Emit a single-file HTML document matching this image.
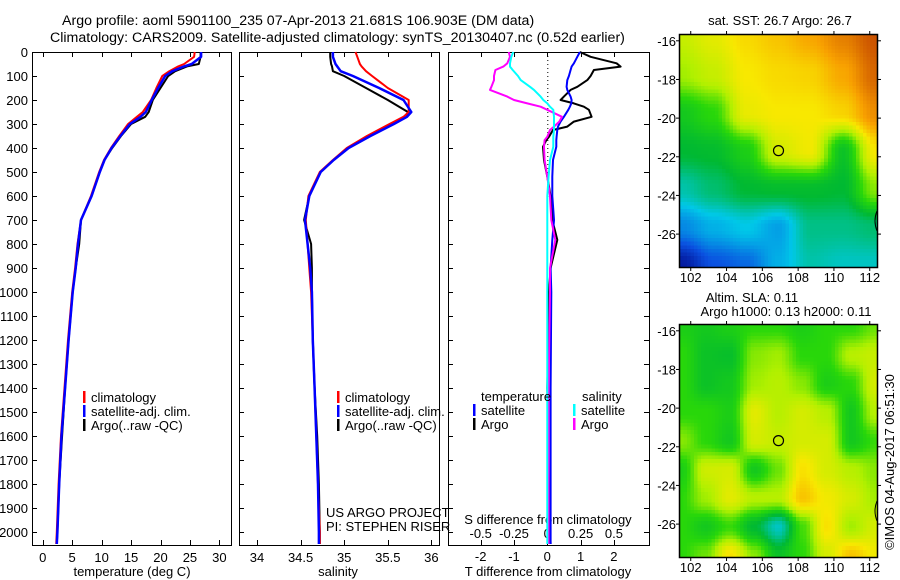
<!DOCTYPE html>
<html><head><meta charset="utf-8">
<style>
html,body{margin:0;padding:0;background:#fff;}
body{width:900px;height:580px;overflow:hidden;position:relative;font-family:"Liberation Sans",sans-serif;}
svg{position:absolute;left:0;top:0;}
canvas{position:absolute;image-rendering:pixelated;}
text{font-family:"Liberation Sans",sans-serif;font-size:13px;fill:#000;}
text.title{font-size:14.2px;}
</style></head>
<body>
<canvas id="mapTop" width="56" height="64" style="left:680px;top:35px;width:197px;height:232px;"></canvas>
<canvas id="mapBot" width="56" height="64" style="left:680px;top:325px;width:197px;height:232px;"></canvas>
<svg id="chart" width="900" height="580" viewBox="0 0 900 580"></svg>
<script>
// ---- data ----
const depths = [0,20,50,60,80,100,150,200,250,270,300,350,400,450,500,600,700,800,900,1000,1200,1400,1600,1800,2000,2050];
const tempArgo = [26.8,26.8,26.5,24.5,22.5,21.3,20,18.7,18,17.4,15,13.3,11.8,10.5,9.7,8.3,6.5,6.2,5.6,5.1,4.4,3.8,3.3,2.8,2.5,2.4];
const tempClim = [25.8,25.7,24.0,23,21.5,20.3,19.3,18.4,17,16,14.5,13,11.6,10.4,9.6,8.2,6.5,5.9,5.5,5.0,4.3,3.7,3.1,2.7,2.4,2.3];
const tempSat = [26.9,26.9,25.3,24,22,20.8,19.6,18.5,17.5,16.6,14.8,13.2,11.7,10.5,9.7,8.3,6.5,6.0,5.6,5.1,4.4,3.8,3.2,2.8,2.5,2.4];
const salArgo = [34.84,34.84,34.85,34.86,34.87,35.0,35.25,35.5,35.73,35.72,35.55,35.3,35.05,34.88,34.73,34.6,34.54,34.62,34.63,34.63,34.64,34.66,34.69,34.71,34.72,34.72];
const salClim = [35.13,35.15,35.18,35.2,35.25,35.32,35.5,35.74,35.74,35.68,35.52,35.26,35.03,34.87,34.72,34.59,34.56,34.58,34.6,34.62,34.64,34.66,34.68,34.7,34.72,34.72];
const salSat = [34.87,34.87,34.9,34.92,34.96,35.1,35.4,35.68,35.77,35.72,35.57,35.3,35.05,34.88,34.73,34.6,34.55,34.58,34.61,34.63,34.64,34.66,34.68,34.7,34.71,34.71];
const diffDepths = [0,20,47,61,75,100,117,145,158,186,200,214,228,241,270,290,311,325,353,367,395,450,519,600,700,783,900,1000,1400,1800,2050];
const tDiffSat = [0.98,0.9,0.8,0.73,0.7,0.65,0.6,0.58,0.6,0.7,0.73,0.72,0.68,0.63,0.5,0.4,0.32,0.3,0.28,0.27,0.27,0.17,0.15,0.15,0.2,0.15,0.1,0.12,0.1,0.1,0.1];
const tDiffArgo = [0.98,1.3,2.08,2.2,1.4,1.3,1.2,0.9,0.7,0.5,0.4,0.8,1.1,1.25,1.33,0.8,0.6,0.17,0.05,-0.03,-0.13,-0.1,0.0,0.1,0.15,0.3,0.1,0.05,0.0,0.05,0.1];
const sDiffSat = [-0.255,-0.27,-0.28,-0.28,-0.26,-0.22,-0.2,-0.13,-0.1,-0.05,-0.03,0.0,0.02,0.045,0.05,0.05,0.05,0.05,0.045,0.045,0.045,0.02,0.01,0,0,0,0,0,0,0,0];
const sDiffArgo = [-0.29,-0.28,-0.3,-0.33,-0.39,-0.4,-0.4,-0.42,-0.43,-0.3,-0.25,-0.15,-0.05,0.0,0.11,0.09,0.05,0.02,0.0,-0.02,-0.025,-0.02,0,0.02,0.03,0.06,0.02,0.02,0.01,0.01,0.01];
const depthTicks = [0,100,200,300,400,500,600,700,800,900,1000,1100,1200,1300,1400,1500,1600,1700,1800,1900,2000];
const tempTicks = [0,5,10,15,20,25,30];
const salTicks = [34,34.5,35,35.5,36];
const tdTicks = [-2,-1,0,1,2];
const sdTicks = [-0.5,-0.25,0,0.25,0.5];
const sdTickLabels = ["-0.5","-0.25","0","0.25","0.5"];
const lonTicks = [102,104,106,108,110,112];
const latTicks = [-16,-18,-20,-22,-24,-26];
const argoLon = 106.903, argoLat = -21.681;

// ---- geometry ----
const top0=52, bot0=545;
const yD = d => top0 + d*0.24;
const P1={l:32,r:231}, P2={l:239,r:439}, P3={l:448,r:649};
const xT = t => 42.7 + t*5.89;
const xS = s => 257 + (s-34)*87.2;
const xTD = t => 547.3 + t*33.3;
const xSD = s => 547.3 + s*133.2;
const MT={l:680,r:877,t:35,b:267}, MB={l:680,r:877,t:325,b:557};
const xLon = lo => 680 + (lo-101.4)*17.9;
const yLatT = la => 35 + (-15.7-la)*19.33;
const yLatB = la => 325 + (-15.7-la)*19.33;

const svg=document.getElementById('chart');
const NS='http://www.w3.org/2000/svg';
function mk(tag,attrs,parent){const e=document.createElementNS(NS,tag);for(const k in attrs)e.setAttribute(k,attrs[k]);(parent||svg).appendChild(e);return e;}
function txt(x,y,s,anchor,parent){const t=mk('text',{x:x,y:y,'text-anchor':anchor||'start'},parent);t.textContent=s;return t;}

// titles
let t1=txt(62,25,'Argo profile: aoml 5901100_235 07-Apr-2013 21.681S 106.903E (DM data)','start');
t1.setAttribute('class','title');


let t2=txt(50,42,'Climatology: CARS2009. Satellite-adjusted climatology: synTS_20130407.nc (0.52d earlier)','start');
t2.setAttribute('class','title');



function frame(P,name){
  const r=mk('rect',{x:P.l+0.5,y:top0+0.5,width:P.r-P.l,height:bot0-top0,fill:'none',stroke:'#000','stroke-width':1});
  
  
  depthTicks.forEach(d=>{const y=Math.round(yD(d))+0.5;mk('line',{x1:P.l,x2:P.l+5,y1:y,y2:y,stroke:'#000'});});
}
frame(P1,'temperature-panel');frame(P2,'salinity-panel');frame(P3,'difference-panel');
depthTicks.forEach(d=>{const y=Math.round(yD(d))+0.5;mk('line',{x1:P3.r,x2:P3.r-5,y1:y,y2:y,stroke:'#000'});});
const gy=mk('g',{});


depthTicks.forEach(d=>{txt(28,yD(d)+5,String(d),'end',gy);});

function xticks(P,ticks,fx,labels,ly,name){
  const g=mk('g',{});
  
  
  ticks.forEach((v,i)=>{const x=Math.round(fx(v))+0.5;
    mk('line',{x1:x,x2:x,y1:top0,y2:top0+5,stroke:'#000'},g);
    mk('line',{x1:x,x2:x,y1:bot0,y2:bot0-5,stroke:'#000'},g);
    if(labels) txt(fx(v),ly,labels[i],'middle',g);});
}
xticks(P1,tempTicks,xT,tempTicks.map(String),562,'temperature-axis');
xticks(P2,salTicks,xS,salTicks.map(String),562,'salinity-axis');
xticks(P3,tdTicks,xTD,tdTicks.map(String),561,'t-difference-axis');
const gs=mk('g',{});


sdTicks.forEach((v,i)=>txt(xSD(v),538,sdTickLabels[i],'middle',gs));
let xl=txt(132,576,'temperature (deg C)','middle');


xl=txt(338,576,'salinity','middle');


xl=txt(548,576,'T difference from climatology','middle');


xl=txt(548,524,'S difference from climatology','middle');



mk('line',{x1:xTD(0)+0.5,x2:xTD(0)+0.5,y1:top0,y2:200,stroke:'#000','stroke-dasharray':'1,3'});

function series(xs,ds,fx,color,name,w){
  const pts=xs.map((v,i)=>fx(v).toFixed(1)+','+yD(ds[i]).toFixed(1)).join(' ');
  const p=mk('polyline',{points:pts,fill:'none',stroke:color,'stroke-width':w||2,'stroke-linejoin':'round'});
  
  
}
series(tempArgo,depths,xT,'#000','temp-argo-line');
series(tempClim,depths,xT,'#ff0000','temp-clim-line');
series(tempSat,depths,xT,'#0000ff','temp-sat-line',2.5);
series(salArgo,depths,xS,'#000','sal-argo-line');
series(salClim,depths,xS,'#ff0000','sal-clim-line');
series(salSat,depths,xS,'#0000ff','sal-sat-line',2.5);
series(tDiffArgo,diffDepths,xTD,'#000','tdiff-argo-line');
series(tDiffSat,diffDepths,xTD,'#0000ff','tdiff-sat-line');
series(sDiffArgo,diffDepths,xSD,'#ff00ff','sdiff-argo-line');
series(sDiffSat,diffDepths,xSD,'#00ffff','sdiff-sat-line');

function legendEntry(x,y,color,label,name){
  const g=mk('g',{});
  
  
  mk('rect',{x:x,y:y-11,width:2.5,height:12,fill:color},g);
  txt(x+8,y,label,'start',g);
}
legendEntry(83,402,'#ff0000','climatology','legend-climatology');
legendEntry(83,416,'#0000ff','satellite-adj. clim.','legend-satellite-adj');
legendEntry(83,430,'#000','Argo(..raw -QC)','legend-argo');
legendEntry(337,402,'#ff0000','climatology','legend-climatology-2');
legendEntry(337,416,'#0000ff','satellite-adj. clim.','legend-satellite-adj-2');
legendEntry(337,430,'#000','Argo(..raw -QC)','legend-argo-2');
let lt=txt(481,401,'temperature','start');


lt=txt(582,401,'salinity','start');


legendEntry(473,415,'#0000ff','satellite','legend-t-satellite');
legendEntry(473,429,'#000','Argo','legend-t-argo');
legendEntry(573,415,'#00ffff','satellite','legend-s-satellite');
legendEntry(573,429,'#ff00ff','Argo','legend-s-argo');
lt=txt(326,517,'US ARGO PROJECT','start');


lt=txt(326,531,'PI: STEPHEN RISER','start');



function mapAxes(M,yLat,name){
  const r=mk('rect',{x:M.l-0.5,y:M.t-0.5,width:M.r-M.l+1,height:M.b-M.t+1,fill:'none',stroke:'#000','stroke-width':1.5});
  
  
  lonTicks.forEach(lo=>{const x=xLon(lo);
    mk('line',{x1:x,x2:x,y1:M.t-4,y2:M.t,stroke:'#000'});
    mk('line',{x1:x,x2:x,y1:M.b,y2:M.b+4,stroke:'#000'});
    txt(x,M.b+15,String(lo),'middle');});
  latTicks.forEach(la=>{const y=yLat(la);
    mk('line',{x1:M.l-4,x2:M.l,y1:y,y2:y,stroke:'#000'});
    mk('line',{x1:M.r,x2:M.r+4,y1:y,y2:y,stroke:'#000'});
    txt(M.l-4,y+5,String(la),'end');});
  const c=mk('circle',{cx:xLon(argoLon),cy:yLat(argoLat),r:5,fill:'none',stroke:'#000','stroke-width':1.2});
  
  
  mk('path',{d:`M${M.r} ${yLat(-24.8)} q-4 10 0 20`,fill:'none',stroke:'#000'});
}
mapAxes(MT,yLatT,'sst-map-frame');
mapAxes(MB,yLatB,'sla-map-frame');
lt=txt(780,25,'sat. SST: 26.7 Argo: 26.7','middle');


lt=txt(752,302,'Altim. SLA: 0.11','middle');


lt=txt(786,316,'Argo h1000: 0.13 h2000: 0.11','middle');


lt=txt(0,0,'©IMOS 04-Aug-2017 06:51:30','middle');
lt.setAttribute('transform','translate(894,462) rotate(-90)');



const topGrid=[
[.68,.72,.77,.80,.84,.90,.97],
[.64,.68,.75,.77,.78,.84,.94],
[.50,.55,.73,.75,.75,.78,.88],
[.45,.46,.52,.70,.74,.48,.75],
[.35,.40,.45,.46,.46,.45,.62],
[.22,.27,.30,.25,.38,.38,.40],
[.05,.15,.18,.27,.35,.33,.33]];
const botGrid=[
[.52,.50,.52,.55,.55,.52,.55,.55,.60],
[.55,.48,.47,.62,.64,.55,.55,.66,.68],
[.55,.48,.50,.64,.66,.62,.52,.55,.70],
[.55,.55,.52,.72,.66,.70,.66,.50,.66],
[.62,.55,.50,.70,.68,.70,.70,.50,.56],
[.52,.69,.70,.50,.60,.76,.70,.66,.62],
[.55,.64,.72,.66,.66,.80,.74,.70,.64],
[.55,.50,.56,.45,.33,.57,.76,.64,.70],
[.55,.60,.76,.62,.48,.55,.70,.80,.74]];
const cmap=[[0,[0,0,128]],[.15,[10,80,224]],[.3,[0,200,232]],[.45,[0,185,50]],[.55,[40,215,10]],[.65,[176,240,0]],[.75,[248,232,0]],[.85,[248,160,0]],[1,[192,64,0]]];
function color(v){v=Math.max(0,Math.min(1,v));for(let i=1;i<cmap.length;i++){if(v<=cmap[i][0]){const a=cmap[i-1],b=cmap[i];const f=(v-a[0])/(b[0]-a[0]);return a[1].map((c,k)=>Math.round(c+(b[1][k]-c)*f));}}return cmap[cmap.length-1][1];}
function drawMap(id,G){
  const cv=document.getElementById(id),ctx=cv.getContext('2d');const W=cv.width,H=cv.height;
  const img=ctx.createImageData(W,H);const n=G.length-1,m=G[0].length-1;
  for(let j=0;j<H;j++)for(let i=0;i<W;i++){
    const u=i/(W-1)*m,v=j/(H-1)*n;const i0=Math.min(Math.floor(u),m-1),j0=Math.min(Math.floor(v),n-1);
    const fu=u-i0,fv=v-j0;
    const su=fu*fu*(3-2*fu),sv=fv*fv*(3-2*fv);
    const val=G[j0][i0]*(1-su)*(1-sv)+G[j0][i0+1]*su*(1-sv)+G[j0+1][i0]*(1-su)*sv+G[j0+1][i0+1]*su*sv;
    const c=color(val);const k=(j*W+i)*4;img.data[k]=c[0];img.data[k+1]=c[1];img.data[k+2]=c[2];img.data[k+3]=255;}
  ctx.putImageData(img,0,0);
}
drawMap('mapTop',topGrid);drawMap('mapBot',botGrid);
</script>
</body></html>
